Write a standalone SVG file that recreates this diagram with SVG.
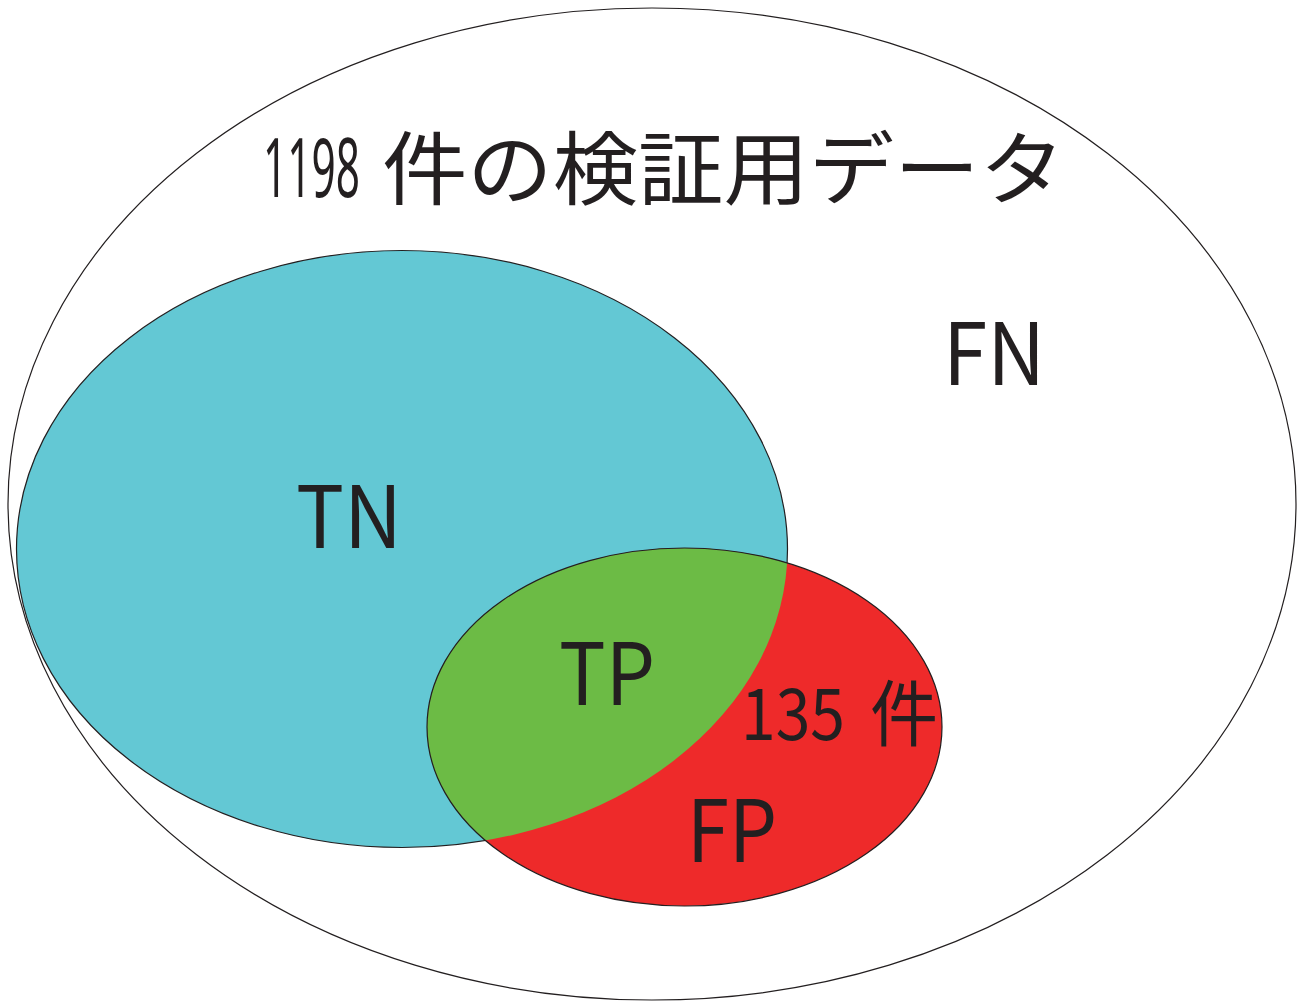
<svg xmlns="http://www.w3.org/2000/svg" width="1299" height="1002" viewBox="0 0 1299 1002">
<style>
.t{font-family:"Noto Sans CJK JP","Liberation Sans",sans-serif;fill:#231f20;}
.d{font-family:"Noto Sans","Liberation Sans",sans-serif;font-stretch:condensed;fill:#231f20;}
.ln{fill:none;stroke:#231f20;stroke-width:1.2;}
</style>
<defs>
<clipPath id="cyanClip"><ellipse cx="402" cy="549" rx="385.5" ry="298.5"/></clipPath>
</defs>
<rect width="1299" height="1002" fill="#ffffff"/>
<g id="all">
<ellipse cx="652" cy="504" rx="644" ry="496" fill="#ffffff" class="ln"/>
</g>
<g id="tn">
<ellipse cx="402" cy="549" rx="385.5" ry="298.5" fill="#63c8d4" stroke="#231f20" stroke-width="1.2"/>
</g>
<g id="fp">
<ellipse cx="684.5" cy="727" rx="257.5" ry="179" fill="#ee2a2a"/>
</g>
<g id="tp">
<ellipse cx="684.5" cy="727" rx="257.5" ry="179" fill="#6cbb45" clip-path="url(#cyanClip)"/>
</g>
<g id="connectors">
<ellipse cx="684.5" cy="727" rx="257.5" ry="179" class="ln"/>
</g>
<g id="labels">
<text class="d" x="263" y="197" font-size="82" textLength="97" lengthAdjust="spacingAndGlyphs">1198</text>
<text class="t" x="382" y="198" font-size="80" textLength="683" lengthAdjust="spacingAndGlyphs">件の検証用データ</text>
<text class="t" x="943" y="385" font-size="86" textLength="102" lengthAdjust="spacingAndGlyphs">FN</text>
<text class="t" x="296" y="548" font-size="86" textLength="106" lengthAdjust="spacingAndGlyphs">TN</text>
<text class="t" x="559" y="705" font-size="86" textLength="96" lengthAdjust="spacingAndGlyphs">TP</text>
<text class="t" x="687" y="862" font-size="86" textLength="90" lengthAdjust="spacingAndGlyphs">FP</text>
<text class="t" x="741" y="740" font-size="72" textLength="104" lengthAdjust="spacingAndGlyphs">135</text>
<text class="t" x="870" y="740" font-size="72" textLength="68" lengthAdjust="spacingAndGlyphs">件</text>
</g>
</svg>
